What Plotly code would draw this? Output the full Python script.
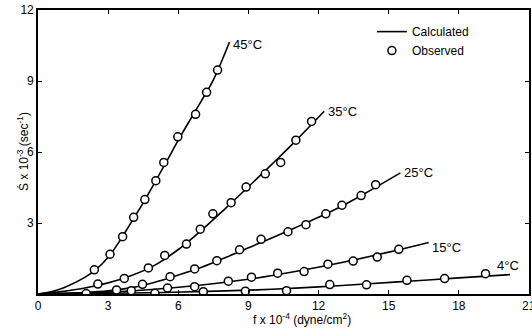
import plotly.graph_objects as go

# Shear rate S (x10^-3 sec^-1) against shear stress f (x10^-4 dyne/cm^2)
temps = ["45°C", "35°C", "25°C", "15°C", "4°C"]

# observed points
obs_f_45 = [2.41, 3.08, 3.62, 4.09, 4.57, 5.04, 5.38, 5.98, 6.74, 7.21, 7.68]
obs_s_45 = [1.02, 1.68, 2.42, 3.24, 3.99, 4.79, 5.56, 6.64, 7.59, 8.52, 9.46]

obs_f_35 = [2.56, 3.69, 4.72, 5.42, 6.35, 6.94, 7.48, 8.26, 8.90, 9.72, 10.38, 11.03, 11.70]
obs_s_35 = [0.42, 0.66, 1.10, 1.63, 2.11, 2.74, 3.39, 3.86, 4.52, 5.08, 5.56, 6.50, 7.29]

obs_f_25 = [3.36, 4.47, 5.65, 6.70, 7.65, 8.62, 9.54, 10.69, 11.46, 12.31, 13.00, 13.82, 14.44]
obs_s_25 = [0.17, 0.41, 0.73, 1.06, 1.41, 1.87, 2.31, 2.63, 2.93, 3.39, 3.75, 4.16, 4.62]

obs_f_15 = [3.99, 5.54, 6.70, 8.14, 9.13, 10.25, 11.38, 12.40, 13.48, 14.51, 15.43]
obs_s_15 = [0.14, 0.25, 0.31, 0.54, 0.71, 0.88, 0.95, 1.26, 1.39, 1.56, 1.89]

obs_f_4 = [2.06, 5.00, 7.07, 8.87, 10.63, 12.48, 14.05, 15.78, 17.39, 19.14]
obs_s_4 = [0.02, 0.03, 0.10, 0.12, 0.14, 0.40, 0.39, 0.58, 0.65, 0.86]

# calculated curves
calc_f_45 = [0, 0.6, 1.3, 2.0, 2.5, 3.0, 3.5, 4.0, 4.5, 5.0, 5.5, 6.0, 6.5, 7.0, 7.5, 8.19]
calc_s_45 = [0, 0.10, 0.35, 0.70, 1.05, 1.55, 2.25, 3.05, 3.85, 4.72, 5.60, 6.50, 7.35, 8.18, 9.05, 10.65]

calc_f_35 = [0, 1, 2, 3, 4, 5, 6, 7, 8, 9, 10, 11, 12.24]
calc_s_35 = [0, 0.10, 0.25, 0.47, 0.78, 1.22, 1.88, 2.70, 3.60, 4.53, 5.48, 6.45, 7.72]

calc_f_25 = [0, 2, 3, 4, 5, 6, 7, 8, 9, 10, 11, 12, 13, 14, 15.5]
calc_s_25 = [0, 0.06, 0.13, 0.27, 0.50, 0.80, 1.13, 1.53, 1.95, 2.37, 2.80, 3.24, 3.72, 4.26, 5.12]

calc_f_15 = [0, 3, 5, 7, 9, 11, 13, 15, 16.71]
calc_s_15 = [0, 0.08, 0.20, 0.38, 0.62, 0.95, 1.33, 1.77, 2.18]

calc_f_4 = [0, 4, 8, 10, 12, 14, 16, 18, 20.19]
calc_s_4 = [0, 0.04, 0.13, 0.20, 0.30, 0.42, 0.55, 0.68, 0.82]

# where each temperature label sits
label_f = [8.26, 12.31, 15.55, 16.78, 19.55]
label_s = [10.56, 7.73, 5.14, 1.98, 1.19]

x_ticks = [0, 3, 6, 9, 12, 15, 18, 21]
y_ticks = [3, 6, 9, 12]

obs = [(obs_f_45, obs_s_45), (obs_f_35, obs_s_35), (obs_f_25, obs_s_25),
       (obs_f_15, obs_s_15), (obs_f_4, obs_s_4)]
calc = [(calc_f_45, calc_s_45), (calc_f_35, calc_s_35), (calc_f_25, calc_s_25),
        (calc_f_15, calc_s_15), (calc_f_4, calc_s_4)]

FONT = "Liberation Sans, Arial, sans-serif"

fig = go.Figure()
for i, (cf, cs) in enumerate(calc):
    fig.add_trace(go.Scatter(
        x=cf, y=cs, mode="lines", line=dict(color="black", width=1.6, shape="spline"),
        name="Calculated", legendgroup="calc", showlegend=(i == 0),
    ))
for i, (of, os_) in enumerate(obs):
    fig.add_trace(go.Scatter(
        x=of, y=os_, mode="markers",
        marker=dict(symbol="circle", size=8, color="white",
                    line=dict(color="black", width=1.5)),
        name="Observed", legendgroup="obs", showlegend=(i == 0),
    ))

for t, lf, ls in zip(temps, label_f, label_s):
    fig.add_annotation(x=lf, y=ls, text=t, showarrow=False, xanchor="left",
                       yanchor="middle", font=dict(size=13, color="black", family=FONT))

# the last x tick label runs past the right edge, so it is placed by hand
fig.add_annotation(x=x_ticks[-1], y=0, yref="y", text=str(x_ticks[-1]), showarrow=False,
                   xanchor="center", yanchor="top", yshift=-3,
                   font=dict(size=12, color="black", family=FONT))

# axis titles
fig.add_annotation(xref="paper", yref="paper", x=0, y=0.5, xshift=-25,
                   text="Ṡ x 10<sup>-3</sup> (sec<sup>-1</sup>)", textangle=-90,
                   showarrow=False, font=dict(size=12, color="black", family=FONT))
fig.add_annotation(xref="paper", yref="paper", x=0.537, y=0, yshift=-25,
                   text="f x 10<sup>-4</sup> (dyne/cm<sup>2</sup>)",
                   showarrow=False, yanchor="middle",
                   font=dict(size=12, color="black", family=FONT))

axis_common = dict(showline=True, linecolor="black", linewidth=1.6, mirror="ticks",
                   ticks="inside", ticklen=4, tickwidth=1.2, tickcolor="black",
                   showgrid=False, zeroline=False,
                   tickfont=dict(size=12, color="black", family=FONT))

fig.update_xaxes(range=[0, 21], tickvals=x_ticks,
                 ticktext=[str(v) for v in x_ticks[:-1]] + [""], **axis_common)
fig.update_yaxes(range=[0, 12], tickvals=y_ticks, ticktext=[str(v) for v in y_ticks],
                 **axis_common)

fig.update_layout(
    width=532, height=335,
    margin=dict(l=38, r=1, t=10, b=41),
    paper_bgcolor="white", plot_bgcolor="white",
    font=dict(family=FONT, color="black"),
    showlegend=True,
    legend=dict(x=0.68, y=0.975, xanchor="left", yanchor="top",
                bgcolor="rgba(0,0,0,0)", borderwidth=0, itemwidth=30,
                font=dict(size=12, color="black", family=FONT), tracegroupgap=0),
)

fig.write_html("out.html")
